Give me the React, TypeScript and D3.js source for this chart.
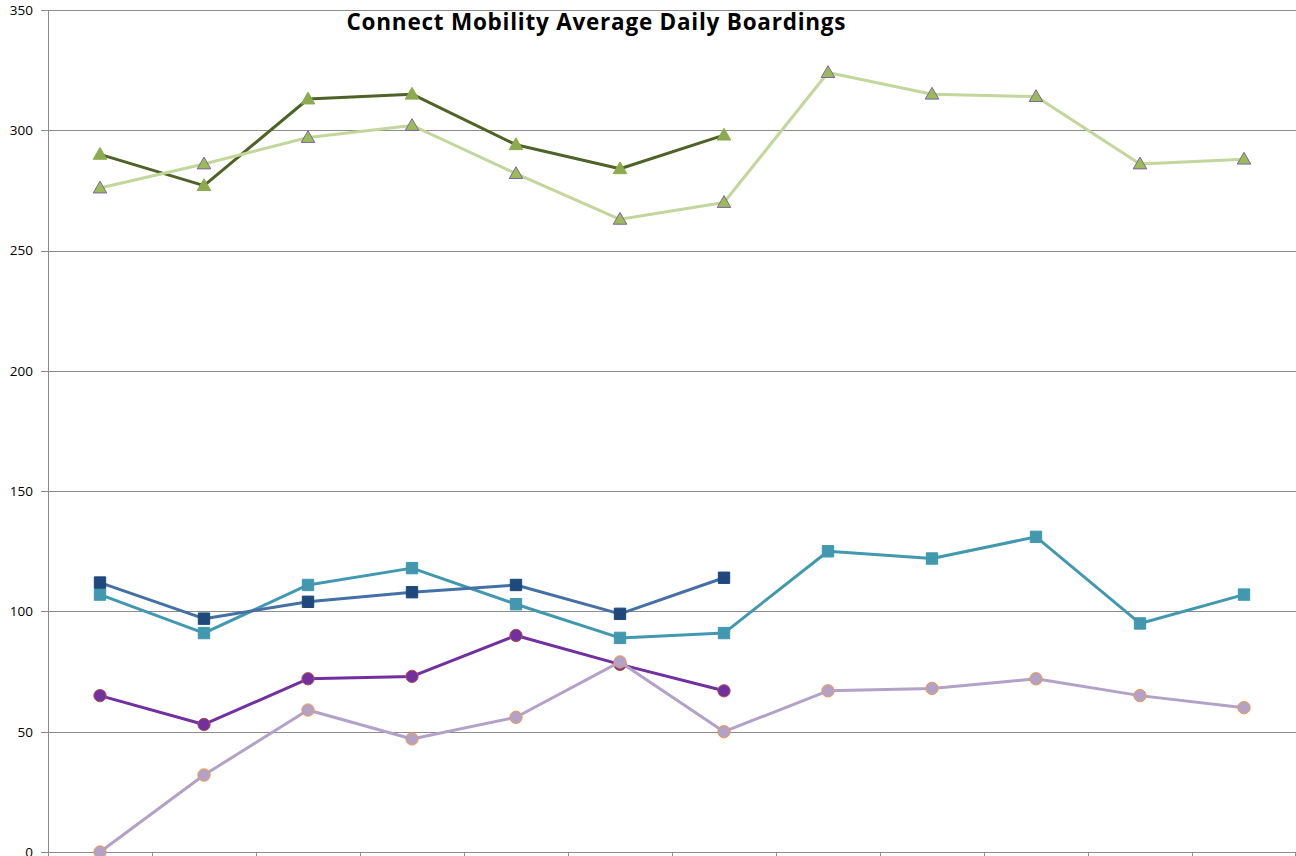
import React, { useRef, useEffect } from "react";
import * as d3 from "d3";

// 12 periods on the x axis (no labels shown on the original)
const periods = d3.range(12).map(i => `P${i + 1}`);

const yTicks = [0, 50, 100, 150, 200, 250, 300, 350];

// earlier year (7 periods) and current year (12 periods)
const fixedRoutePrev = [290, 277, 313, 315, 294, 284, 298];
const fixedRouteCurr = [276, 286, 297, 302, 282, 263, 270, 324, 315, 314, 286, 288];
const flexPrev = [112, 97, 104, 108, 111, 99, 114];
const flexCurr = [107, 91, 111, 118, 103, 89, 91, 125, 122, 131, 95, 107];
const dialPrev = [65, 53, 72, 73, 90, 78, 67];
const dialCurr = [0, 32, 59, 47, 56, 79, 50, 67, 68, 72, 65, 60];

type Series = {
  values: number[];
  line: string;
  fill: string;
  stroke: string;
  shape: "triangle" | "square" | "circle";
};

const series: Series[] = [
  { values: flexCurr, line: "#4198AF", fill: "#4198AF", stroke: "#4198AF", shape: "square" },
  { values: flexPrev, line: "#4470A6", fill: "#1F497D", stroke: "#1F497D", shape: "square" },
  { values: dialPrev, line: "#7030A0", fill: "#7030A0", stroke: "#C0504D", shape: "circle" },
  { values: dialCurr, line: "#B3A2C7", fill: "#B3A2C7", stroke: "#F79646", shape: "circle" },
  { values: fixedRoutePrev, line: "#4F6228", fill: "#8CAB4E", stroke: "#8CAB4E", shape: "triangle" },
  { values: fixedRouteCurr, line: "#C3D69B", fill: "#9BBB59", stroke: "#8064A2", shape: "triangle" },
];

const W = 1296;
const H = 856;
const margin = { top: 10, right: 0, bottom: 4, left: 48 };

export default function App() {
  const svgRef = useRef<SVGSVGElement>(null);

  useEffect(() => {
    const svg = d3.select(svgRef.current);
    svg.selectAll("*").remove();

    const x = d3.scaleBand().domain(periods).range([margin.left, W - margin.right]);
    const y = d3.scaleLinear().domain([0, 350]).range([H - margin.bottom, margin.top]);

    svg.append("rect").attr("width", W).attr("height", H).attr("fill", "#fff");

    // gridlines + y labels
    const yAxis = svg.append("g")
      .attr("transform", `translate(${margin.left},0)`)
      .call(d3.axisLeft(y).tickValues(yTicks).tickSize(-(W - margin.left - margin.right)).tickPadding(15));
    yAxis.select(".domain").remove();
    yAxis.selectAll(".tick line")
      .attr("x1", -7)
      .attr("stroke", "#8c8c8c").attr("stroke-width", 1).attr("shape-rendering", "crispEdges");
    yAxis.selectAll(".tick text")
      .attr("fill", "#000")
      .style("font-family", "'Open Sans', sans-serif")
      .style("font-size", "13.5px");

    // left axis line
    svg.append("line")
      .attr("x1", margin.left + 0.5).attr("x2", margin.left + 0.5)
      .attr("y1", y(350)).attr("y2", y(0) + 4)
      .attr("stroke", "#8c8c8c");

    // bottom axis with ticks at band edges
    const edges = d3.range(13).map(i => margin.left + i * x.step());
    svg.append("line")
      .attr("x1", margin.left).attr("x2", W)
      .attr("y1", y(0) + 0.5).attr("y2", y(0) + 0.5)
      .attr("stroke", "#8c8c8c");
    svg.append("g").selectAll("line").data(edges).join("line")
      .attr("x1", d => Math.min(d, W - 1) + 0.5).attr("x2", d => Math.min(d, W - 1) + 0.5)
      .attr("y1", y(0)).attr("y2", y(0) + 5)
      .attr("stroke", "#8c8c8c");

    const cx = (i: number) => (x(periods[i]) as number) + x.bandwidth() / 2;
    const line = d3.line<number>().x((_, i) => cx(i)).y(d => y(d));

    series.forEach(s => {
      const g = svg.append("g");
      g.append("path")
        .datum(s.values)
        .attr("fill", "none")
        .attr("stroke", s.line)
        .attr("stroke-width", 3)
        .attr("stroke-linejoin", "round")
        .attr("d", line);

      const sym = s.shape === "triangle" ? d3.symbolTriangle : s.shape === "square" ? d3.symbolSquare : d3.symbolCircle;
      const size = s.shape === "triangle" ? 80 : s.shape === "square" ? 130 : 120;
      g.selectAll("path.m").data(s.values).join("path")
        .attr("class", "m")
        .attr("transform", (d, i) => `translate(${cx(i)},${y(d) + (s.shape === "triangle" ? 1 : 0)})`)
        .attr("d", d3.symbol().type(sym).size(size)())
        .attr("fill", s.fill)
        .attr("stroke", s.stroke)
        .attr("stroke-width", 1);
    });

    svg.append("text")
      .attr("x", 596)
      .attr("y", 30)
      .attr("text-anchor", "middle")
      .attr("textLength", 499)
      .attr("lengthAdjust", "spacing")
      .style("font-family", "'Open Sans', sans-serif")
      .style("font-weight", "bold")
      .style("font-size", "22.5px")
      .text("Connect Mobility Average Daily Boardings");
  }, []);

  return (
    <div style={{ position: "absolute", left: 0, top: 0 }}>
      <svg ref={svgRef} width={W} height={H} style={{ display: "block" }}></svg>
    </div>
  );
}
